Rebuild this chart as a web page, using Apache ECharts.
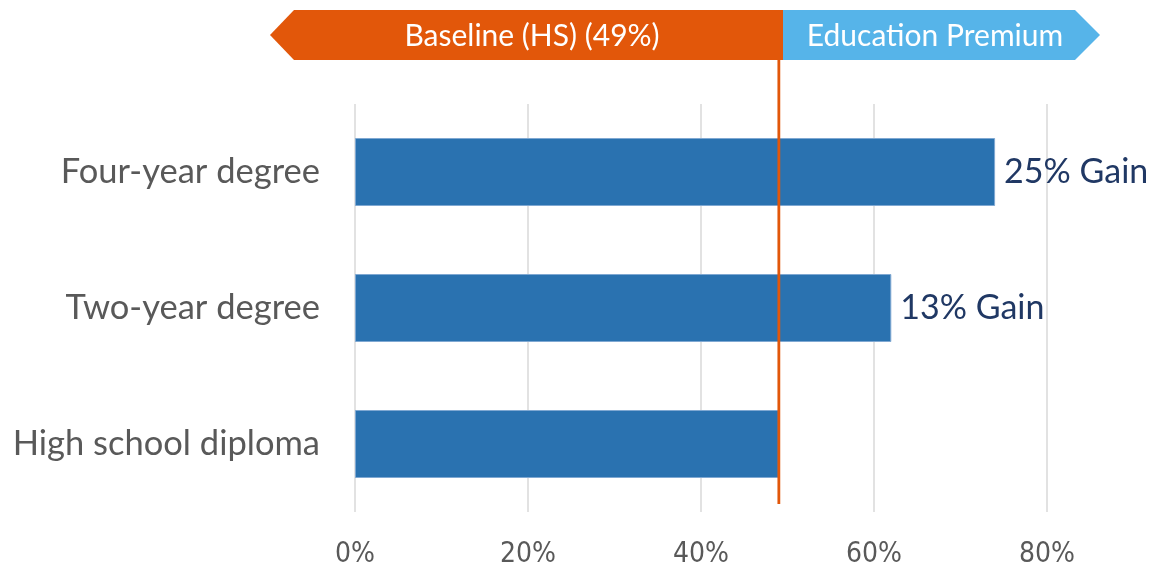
<!DOCTYPE html>
<html>
<head>
<meta charset="utf-8">
<style>
  html, body { margin: 0; padding: 0; background: #ffffff; }
  #chart { width: 1150px; height: 570px; }
</style>
<script src="https://cdn.jsdelivr.net/npm/echarts@6/dist/echarts.min.js"></script>
</head>
<body>
<div id="chart"></div>
<script>
// Share by highest credential, with the high-school share as the baseline
const categories = ['High school diploma', 'Two-year degree', 'Four-year degree'];
const shares = [49, 62, 74];
const baseline = 49;
const axisMax = 80;
const axisStep = 20;

const ORANGE = '#E2570A';
const SKY = '#56B4E9';
const BAR = '#2A72B0';
const FONT = 'Lato, "Open Sans", sans-serif';
const NARROW = '"Liberation Sans Narrow", "DejaVu Sans Condensed", Lato, sans-serif';

const chart = echarts.init(document.getElementById('chart'), null, { renderer: 'canvas' });

chart.setOption({
  animation: false,
  backgroundColor: '#ffffff',
  grid: { left: 355, right: 103, top: 104, bottom: 58, containLabel: false },
  xAxis: {
    type: 'value',
    min: 0,
    max: axisMax,
    interval: axisStep,
    axisLine: { show: false },
    axisTick: { show: false },
    splitLine: { show: true, lineStyle: { color: '#D9D9D9', width: 1.5 } },
    axisLabel: {
      formatter: '{value}%',
      color: '#595959',
      fontFamily: NARROW,
      fontSize: 28,
      margin: 29
    }
  },
  yAxis: {
    type: 'category',
    data: categories,
    axisLine: { show: false },
    axisTick: { show: false },
    axisLabel: {
      color: '#595959',
      fontFamily: FONT,
      fontSize: 34.5,
      margin: 35
    }
  },
  series: [{
    type: 'bar',
    data: shares,
    barWidth: '50%',
    itemStyle: { color: BAR, borderColor: '#7FA8D2', borderWidth: 1 },
    label: {
      show: true,
      position: 'right',
      distance: 9,
      color: '#203864',
      fontFamily: FONT,
      fontSize: 34,
      formatter: p => {
        const gain = p.value - baseline;
        return gain > 0 ? gain + '% Gain' : '';
      }
    }
  }]
});

// Baseline marker placed through the value axis, plus the two-part banner on top
const lineX = chart.convertToPixel({ xAxisIndex: 0 }, baseline);

chart.setOption({
  graphic: [
    {
      type: 'polygon',
      z: 50,
      shape: { points: [[270, 35], [294, 10], [783, 10], [783, 60], [294, 60]] },
      style: { fill: ORANGE }
    },
    {
      type: 'polygon',
      z: 50,
      shape: { points: [[783, 10], [1075, 10], [1100, 35], [1075, 60], [783, 60]] },
      style: { fill: SKY }
    },
    {
      type: 'text',
      z: 51,
      x: 532,
      y: 36,
      style: {
        text: 'Baseline (HS) (' + baseline + '%)',
        fill: '#ffffff',
        font: '30px ' + FONT,
        align: 'center',
        verticalAlign: 'middle'
      }
    },
    {
      type: 'text',
      z: 51,
      x: 935,
      y: 36,
      style: {
        text: 'Education Premium',
        fill: '#ffffff',
        font: '30px ' + FONT,
        align: 'center',
        verticalAlign: 'middle'
      }
    },
    {
      type: 'line',
      z: 60,
      shape: { x1: lineX, y1: 60, x2: lineX, y2: 504 },
      style: { stroke: ORANGE, lineWidth: 2.8 }
    }
  ]
});
</script>
</body>
</html>
